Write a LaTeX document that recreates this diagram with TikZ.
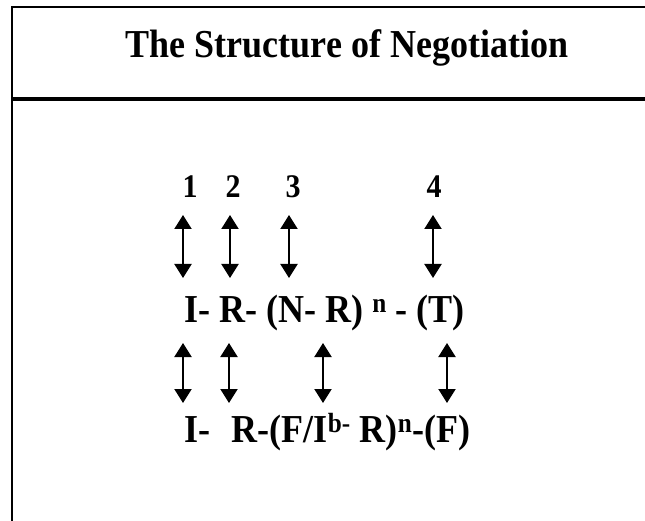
\documentclass[tikz,border=0pt]{standalone}
\usepackage{fontspec}
\setmainfont{Liberation Serif}
\usetikzlibrary{arrows.meta}

\newcommand{\tallish}[1]{\scalebox{1}[1.1]{#1}}

\begin{document}
\begin{tikzpicture}[x=1pt, y=-1pt, >={Triangle[width=17pt,length=14pt]}, thick]
    \useasboundingbox (0,0) rectangle (645,521);
    \tikzset{
        rowtext/.style={font=\fontsize{36}{40}\selectfont\bfseries, inner sep=0pt, anchor=base west},
        numtext/.style={font=\fontsize{30}{34}\selectfont\bfseries, inner sep=0pt, anchor=base},
        dblarrow/.style={<->, line width=2pt}
    }
    
    % frame and rule
    \draw[line width=2.5pt] (12,521) -- (12,7) -- (645,7);
    \draw[line width=3.5pt] (12,99) -- (645,99);
    
    % title
    \node[font=\fontsize{36}{40}\selectfont\bfseries, inner sep=0pt, anchor=base] (title) at (347,58) {\tallish{The Structure of Negotiation}};
    
    % move numbers
    \node[numtext] (n1) at (190,198) {\tallish{1}};
    \node[numtext] (n2) at (233,198) {\tallish{2}};
    \node[numtext] (n3) at (293,198) {\tallish{3}};
    \node[numtext] (n4) at (434,198) {\tallish{4}};
    
    % upper row
    \node[rowtext] (rowA) at (184,322) {\tallish{I- R- (N- R) \textsuperscript{n} - (T)}};
    \coordinate (a1t) at (183,215); \coordinate (a1b) at (183,278);
    \coordinate (a2t) at (230,215); \coordinate (a2b) at (230,278);
    \coordinate (a3t) at (289,215); \coordinate (a3b) at (289,278);
    \coordinate (a4t) at (433,215); \coordinate (a4b) at (433,278);
    \draw[dblarrow] (a1t) -- (a1b);
    \draw[dblarrow] (a2t) -- (a2b);
    \draw[dblarrow] (a3t) -- (a3b);
    \draw[dblarrow] (a4t) -- (a4b);
    
    % lower row
    \node[rowtext] (rowB) at (184,442) {\tallish{I-\hspace{0.6em}R-(F/I\textsuperscript{b-} R)\textsuperscript{n}-(F)}};
    \coordinate (b1t) at (183,343); \coordinate (b1b) at (183,403);
    \coordinate (b2t) at (229,343); \coordinate (b2b) at (229,403);
    \coordinate (b3t) at (323,343); \coordinate (b3b) at (323,403);
    \coordinate (b4t) at (447,343); \coordinate (b4b) at (447,403);
    \draw[dblarrow] (b1t) -- (b1b);
    \draw[dblarrow] (b2t) -- (b2b);
    \draw[dblarrow] (b3t) -- (b3b);
    \draw[dblarrow] (b4t) -- (b4b);
\end{tikzpicture}
\end{document}
